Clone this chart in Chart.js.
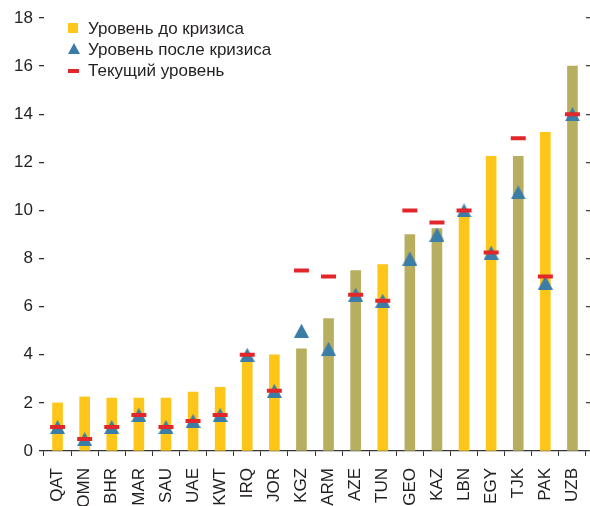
<!DOCTYPE html>
<html>
<head>
<meta charset="utf-8">
<script src="https://cdn.jsdelivr.net/npm/chart.js@4.4.1/dist/chart.umd.min.js"></script>
<style>
  body { margin: 0; background: #fff; }
  .wrap { position: relative; width: 590px; height: 506px; }
  .legend {
    position: absolute; left: 68px; top: 18px;
    font: 17px 'Liberation Sans', Arial, sans-serif; color: #231f20;
    line-height: 21px;
  }
  .legend div { position: relative; padding-left: 20px; white-space: nowrap; }
  .legend i { position: absolute; left: 0; }
  .sq { top: 5px; width: 10px; height: 10px; background: #ffc61a; }
  .tri { top: 4px; width: 0; height: 0; border-left: 6px solid transparent; border-right: 6px solid transparent; border-bottom: 11px solid #3b7da7; }
  .dash { top: 9px; width: 11px; height: 4px; background: #e3262a; }
</style>
</head>
<body>
<div class="wrap">
  <canvas id="chart" width="590" height="506"></canvas>
  <div class="legend">
    <div><i class="sq"></i>Уровень до кризиса</div>
    <div><i class="tri"></i>Уровень после кризиса</div>
    <div><i class="dash"></i>Текущий уровень</div>
  </div>
</div>
<script>
const CATEGORIES = ['QAT','OMN','BHR','MAR','SAU','UAE','KWT','IRQ','JOR','KGZ',
                    'ARM','AZE','TUN','GEO','KAZ','LBN','EGY','TJK','PAK','UZB'];
// Уровень до кризиса (столбцы)
const PRE_CRISIS = [2.0, 2.25, 2.2, 2.2, 2.2, 2.45, 2.65, 3.85, 4.0, 4.25,
                    5.5, 7.5, 7.75, 9.0, 9.25, 9.8, 12.25, 12.25, 13.25, 16.0];
// Группа стран: 'y' — жёлтые столбцы, 'o' — оливковые
const BAR_GROUP = ['y','y','y','y','y','y','y','y','y','o',
                   'o','o','y','o','o','y','y','o','y','o'];
// Уровень после кризиса (треугольники)
const POST_CRISIS = [1.0, 0.5, 1.0, 1.5, 1.0, 1.25, 1.5, 4.0, 2.5, 5.0,
                     4.25, 6.5, 6.25, 8.0, 9.0, 10.0, 8.25, 10.75, 7.0, 14.0];
// Текущий уровень (красные черточки)
const CURRENT = [1.0, 0.5, 1.0, 1.5, 1.0, 1.25, 1.5, 4.0, 2.5, 7.5,
                 7.25, 6.5, 6.25, 10.0, 9.5, 10.0, 8.25, 13.0, 7.25, 14.0];
const Y_TICKS = [0, 2, 4, 6, 8, 10, 12, 14, 16, 18];

const COLORS = { y: '#ffc61a', o: '#b7af5f' };
const TEXT = '#231f20';
const FONT = { family: "'Liberation Sans', Arial, sans-serif", size: 17 };

// Треугольник как картинка, чтобы центр совпадал с центром рамки
function makeTriangle(w, h, color) {
  const c = document.createElement('canvas');
  c.width = w; c.height = h;
  const ctx = c.getContext('2d');
  ctx.fillStyle = color;
  ctx.beginPath();
  ctx.moveTo(w / 2, 0);
  ctx.lineTo(w, h);
  ctx.lineTo(0, h);
  ctx.closePath();
  ctx.fill();
  return c;
}
const triangle = makeTriangle(15, 14, '#3b7da7');

const setTicks = (s) => { s.ticks = Y_TICKS.map(v => ({ value: v })); };

new Chart(document.getElementById('chart'), {
  data: {
    labels: CATEGORIES,
    datasets: [
      {
        type: 'bar',
        label: 'Уровень до кризиса',
        data: PRE_CRISIS,
        backgroundColor: BAR_GROUP.map(g => COLORS[g]),
        barThickness: 10,
        order: 3,
      },
      {
        type: 'line',
        label: 'Уровень после кризиса',
        data: POST_CRISIS,
        showLine: false,
        pointStyle: triangle,
        order: 2,
      },
      {
        type: 'line',
        label: 'Текущий уровень',
        data: CURRENT,
        showLine: false,
        pointStyle: 'line',
        pointRadius: 7.5,
        pointBorderWidth: 4,
        pointBorderColor: '#e3262a',
        pointBackgroundColor: '#e3262a',
        order: 1,
      },
    ],
  },
  options: {
    responsive: false,
    animation: false,
    events: [],
    layout: { autoPadding: false, padding: { top: 18, left: 0, right: 0, bottom: 0 } },
    plugins: { legend: { display: false }, tooltip: { enabled: false } },
    scales: {
      x: {
        grid: { drawOnChartArea: false, tickLength: 5, tickColor: '#333', offset: true },
        border: { color: '#333', width: 1.3 },
        ticks: { font: FONT, color: TEXT, maxRotation: 90, minRotation: 90, autoSkip: false, padding: 12 },
        afterFit: (s) => { s.height = 55; s.paddingLeft = 0; s.paddingRight = 0; },
      },
      y: {
        min: 0, max: 18,
        afterBuildTicks: setTicks,
        grid: { drawOnChartArea: false, tickLength: 5, tickColor: '#333', lineWidth: 1.3 },
        border: { display: false },
        ticks: { font: FONT, color: TEXT, padding: 6 },
        afterFit: (s) => { s.width = 44; },
      },
      y2: {
        position: 'right',
        min: 0, max: 18,
        afterBuildTicks: setTicks,
        grid: { drawOnChartArea: false, tickLength: 4, tickColor: '#444', lineWidth: 1.3 },
        border: { display: false },
        ticks: { display: false },
        afterFit: (s) => { s.width = 4; },
      },
    },
  },
});
</script>
</body>
</html>
